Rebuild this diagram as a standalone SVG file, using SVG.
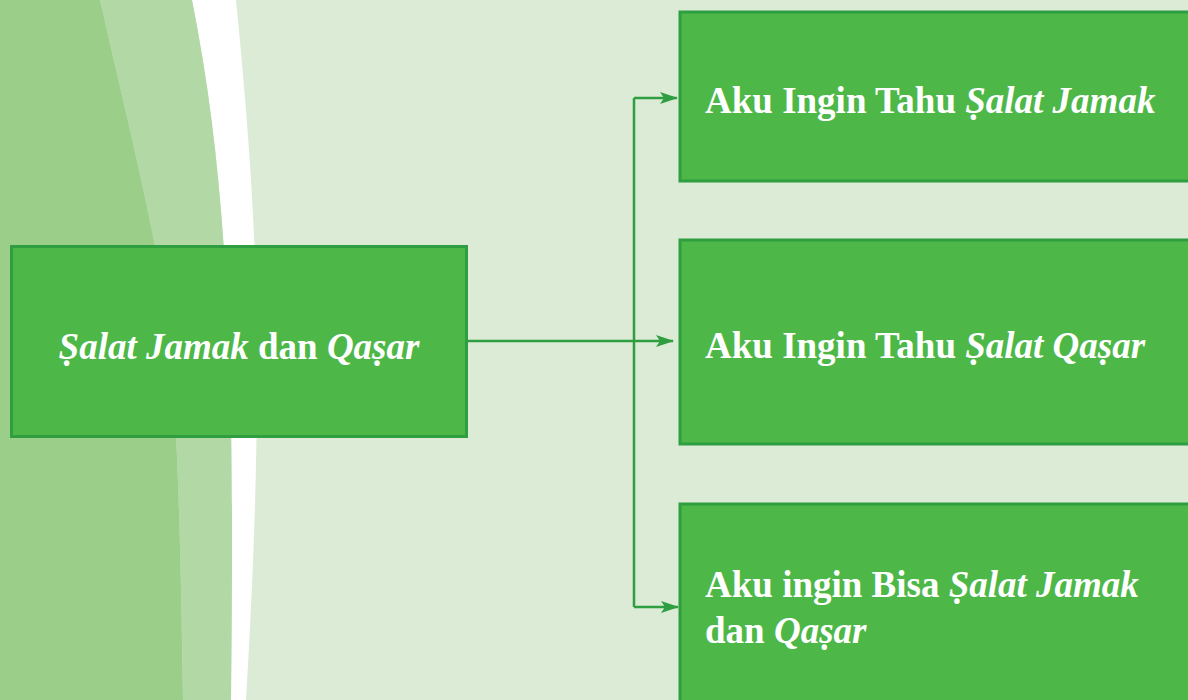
<svg xmlns="http://www.w3.org/2000/svg" width="1188" height="700" viewBox="0 0 1188 700">
  <defs>
    <style>
      .box { fill: #4db848; stroke: #2f9e40; stroke-width: 3; }
      .label { font-family: "Liberation Serif", "Times New Roman", serif; font-size: 37px; font-weight: bold; fill: #ffffff; }
      .it { font-style: italic; }
      .wire { fill: none; stroke: #2f9e40; stroke-width: 2.5; }
    </style>
    <marker id="arrow" viewBox="0 0 18 12" refX="17" refY="6" markerWidth="18" markerHeight="12" markerUnits="userSpaceOnUse" orient="auto">
      <path d="M0,0 L18,6 L0,12 L4,6 Z" fill="#2f9e40"/>
    </marker>
  </defs>

  <!-- backdrop -->
  <rect x="0" y="0" width="1188" height="700" fill="#dbebd6"/>
  <!-- white swoosh band -->
  <path d="M192,0 C208,80 218,160 224,250 C230,340 234,430 231,700 L246,700 C252,600 258,470 257,340 C256,230 248,120 236,0 Z" fill="#ffffff"/>
  <!-- mid green band -->
  <path d="M100,0 L192,0 C208,80 218,160 224,250 C230,340 234,430 231,700 L183,700 C181,560 178,440 170,330 C155,230 125,110 100,0 Z" fill="#b2d9a5"/>
  <!-- deep green band -->
  <path d="M0,0 L100,0 C125,110 155,230 170,330 C178,440 181,560 183,700 L0,700 Z" fill="#9bcf89"/>

  <!-- connectors -->
  <g id="connectors">
    <line class="wire" x1="468" y1="341" x2="673" y2="341" marker-end="url(#arrow)"/>
    <path class="wire" d="M634,98 L634,607"/>
    <path class="wire" d="M634,98 L677,98" marker-end="url(#arrow)"/>
    <path class="wire" d="M634,607 L678,607" marker-end="url(#arrow)"/>
  </g>

  <g id="node-main">
    <rect class="box" x="11.5" y="246.5" width="455" height="190"/>
    <text class="label" x="239" y="359" text-anchor="middle"><tspan class="it">Ṣalat Jamak</tspan> dan <tspan class="it">Qaṣar</tspan></text>
  </g>

  <g id="node-jamak">
    <rect class="box" x="680" y="12" width="520" height="169"/>
    <text class="label" x="705" y="113">Aku Ingin Tahu <tspan class="it">Ṣalat Jamak</tspan></text>
  </g>

  <g id="node-qasar">
    <rect class="box" x="680" y="240" width="520" height="204"/>
    <text class="label" x="705" y="358">Aku Ingin Tahu <tspan class="it">Ṣalat Qaṣar</tspan></text>
  </g>

  <g id="node-bisa">
    <rect class="box" x="680" y="504" width="520" height="220"/>
    <text class="label" x="705" y="597">Aku ingin Bisa <tspan class="it">Ṣalat Jamak</tspan></text>
    <text class="label" x="705" y="643">dan <tspan class="it">Qaṣar</tspan></text>
  </g>
</svg>
